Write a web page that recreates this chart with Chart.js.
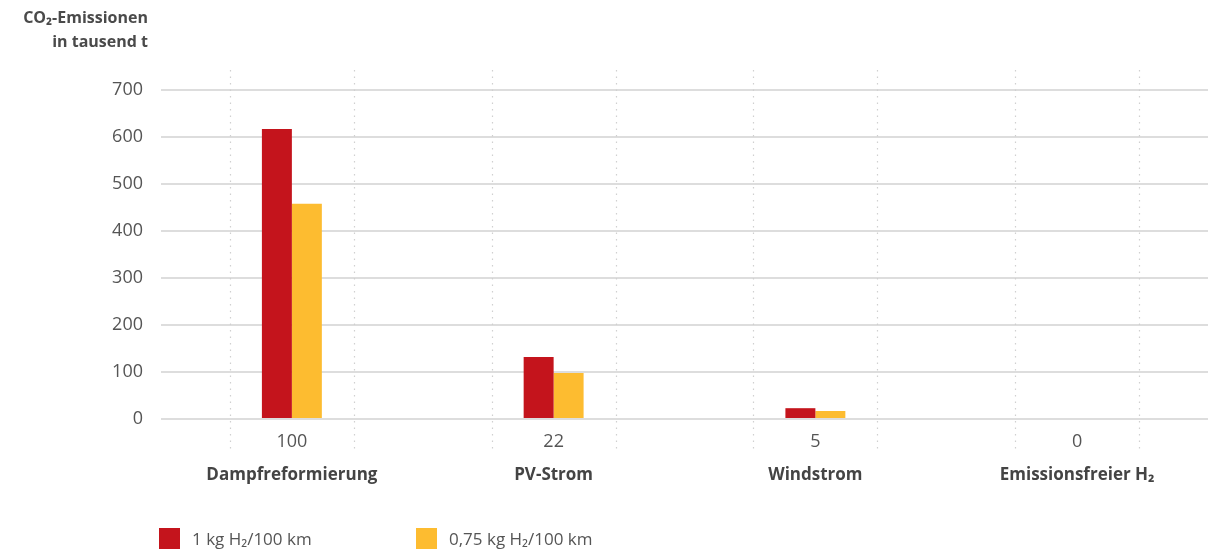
<!DOCTYPE html>
<html>
<head>
<meta charset="utf-8">
<script src="https://cdn.jsdelivr.net/npm/chart.js@4"></script>
<style>
  html, body { margin: 0; padding: 0; background: #fff; }
  #wrap { width: 1208px; height: 553px; position: relative; }
</style>
</head>
<body>
<div id="wrap"><canvas id="c" width="1208" height="553"></canvas></div>
<script>
const categories = ['Dampfreformierung', 'PV-Strom', 'Windstrom', 'Emissionsfreier H\u2082'];
const relativeLabels = ['100', '22', '5', '0'];
const seriesNames = ['1 kg H\u2082/100 km', '0,75 kg H\u2082/100 km'];
const series1 = [617, 132, 23, 0];
const series2 = [458, 98, 17, 0];
const yTicks = [0, 100, 200, 300, 400, 500, 600, 700];
const titleLines = ['CO\u2082-Emissionen', 'in tausend t'];
const colors = ['#c4141c', '#fdbc30'];

const FONT = "'Open Sans', 'Noto Sans', sans-serif";

const dottedPlugin = {
  id: 'dotted',
  beforeDatasetsDraw(chart) {
    const x = chart.scales.x;
    const ca = chart.chartArea;
    const ctx = chart.ctx;
    const catW = (x.right - x.left) / categories.length;
    ctx.save();
    ctx.strokeStyle = '#d0d0d0';
    ctx.lineWidth = 1.2;
    ctx.setLineDash([1.5, 5]);
    categories.forEach((c, i) => {
      const cx = x.getPixelForValue(i);
      [-1, 1].forEach(s => {
        const px = Math.round(cx + s * catW * 0.237) + 0.5;
        ctx.beginPath();
        ctx.moveTo(px, ca.top - 20);
        ctx.lineTo(px, ca.bottom + 32);
        ctx.stroke();
      });
    });
    ctx.restore();
  }
};

const titleLegendPlugin = {
  id: 'titleLegend',
  afterDraw(chart) {
    const ctx = chart.ctx;
    ctx.save();
    ctx.fillStyle = '#4a4a4a';
    ctx.font = "bold 16px " + FONT;
    ctx.textAlign = 'right';
    ctx.textBaseline = 'middle';
    ctx.fillText(titleLines[0], 148, 18);
    ctx.fillText(titleLines[1], 148, 42);
    // legend
    const xs = [159, 416];
    chart.data.datasets.forEach((ds, i) => {
      ctx.fillStyle = ds.backgroundColor;
      ctx.fillRect(xs[i], 528, 21, 21);
      ctx.fillStyle = '#555';
      ctx.font = "17px " + FONT;
      ctx.textAlign = 'left';
      ctx.textBaseline = 'middle';
      ctx.fillText(ds.label, xs[i] + 33, 540);
    });
    ctx.restore();
  }
};

function noPad(s) { s.paddingLeft = 0; s.paddingRight = 0; }

new Chart(document.getElementById('c'), {
  type: 'bar',
  data: {
    labels: categories,
    datasets: [
      { label: seriesNames[0], data: series1, backgroundColor: colors[0] },
      { label: seriesNames[1], data: series2, backgroundColor: colors[1] }
    ]
  },
  options: {
    responsive: false,
    animation: false,
    maintainAspectRatio: false,
    categoryPercentage: 0.229,
    barPercentage: 1,
    layout: { padding: { top: 90, right: 0, bottom: 60, left: 0 } },
    plugins: {
      legend: { display: false },
      title: { display: false },
      tooltip: { enabled: false }
    },
    scales: {
      x: {
        type: 'category',
        position: 'bottom',
        grid: { display: false, drawTicks: false },
        border: { display: false },
        ticks: {
          padding: 12,
          color: '#555',
          font: { family: FONT, size: 18 },
          callback: (v, i) => relativeLabels[i]
        },
        afterFit: s => { s.height = 40; noPad(s); },
        afterCalculateLabelRotation: noPad
      },
      x2: {
        type: 'category',
        position: 'bottom',
        labels: categories,
        grid: { display: false, drawTicks: false },
        border: { display: false },
        ticks: {
          padding: 6,
          color: '#444',
          font: { family: FONT, size: 17, weight: 'bold' }
        },
        afterFit: s => { s.height = 34; noPad(s); },
        afterCalculateLabelRotation: noPad
      },
      y: {
        min: 0,
        max: 700,
        afterBuildTicks: s => { s.ticks = yTicks.map(v => ({ value: v })); },
        grid: { color: '#dddddd', lineWidth: 2, drawTicks: false },
        border: { display: false },
        ticks: {
          padding: 18,
          color: '#555',
          font: { family: FONT, size: 18 }
        },
        afterFit: s => { s.width = 161; }
      }
    }
  },
  plugins: [dottedPlugin, titleLegendPlugin]
});
</script>
</body>
</html>
